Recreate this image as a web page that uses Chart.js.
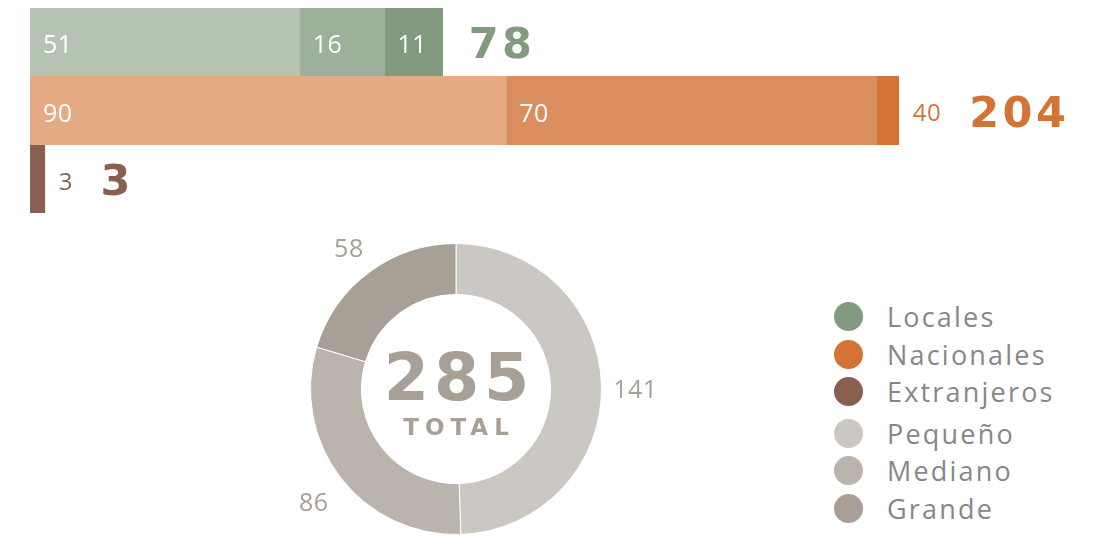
<!DOCTYPE html>
<html>
<head>
<meta charset="utf-8">
<script src="https://cdn.jsdelivr.net/npm/chart.js@4/dist/chart.umd.min.js"></script>
<style>
	html, body { margin: 0; padding: 0; background: #fff; }
	body { width: 1104px; height: 536px; position: relative; overflow: hidden; font-family: "Open Sans", sans-serif; }
	#bars-wrap { position: absolute; left: 0; top: 0; width: 1104px; height: 220px; }
	#donut-wrap { position: absolute; left: 156px; top: 224px; width: 600px; height: 312px; }
	#legend { position: absolute; left: 834px; top: 298px; margin: 0; padding: 0; list-style: none; }
	#legend li { display: flex; align-items: center; height: 37.5px; color: #878787; font-size: 27px; font-weight: 400; letter-spacing: 2.2px; }
	#legend li.gap { margin-top: 4px; }
	#legend span.dot { width: 29px; height: 29px; border-radius: 50%; margin-right: 24px; flex: none; }
</style>
</head>
<body>
<div id="bars-wrap"><canvas id="chart-origen"></canvas></div>
<div id="donut-wrap"><canvas id="chart-tamano"></canvas></div>
<ul id="legend"></ul>

<script>
// Data
const ORIGINS = ["Locales", "Nacionales", "Extranjeros"];
const SIZES = ["Pequeño", "Mediano", "Grande"];
const ORIGIN_TOTALS = [78, 204, 3];
// segment lengths as drawn in the bars
const PEQUENO = [51, 90, 0];
const MEDIANO = [16, 70, 0];
const GRANDE = [11, 4.2, 2.8];
// numbers printed on the segments
const PEQUENO_LABELS = ["51", "90", ""];
const MEDIANO_LABELS = ["16", "70", ""];
const GRANDE_LABELS = ["11", "40", "3"];
// doughnut
const SIZE_TOTALS = [141, 86, 58];
const GRAND_TOTAL = 285;

// Colours
const ORIGIN_COLORS = ["#829a7f", "#d37434", "#8b5e52"];
const SHADES = [
	["#b5c4b2", "#e4aa84", "#8b5e52"],
	["#9cb09a", "#da8e5d", "#8b5e52"],
	["#829a7f", "#d37434", "#8b5e52"],
];
const SIZE_COLORS = ["#cbc7c2", "#bab4ad", "#a8a097"];
const FONT = "'Open Sans', sans-serif";
const BOLD_FONT = "'DejaVu Sans', sans-serif";

//---------------------------------------------------------
// Bars
//---------------------------------------------------------
const SEGMENT_LABELS = [PEQUENO_LABELS, MEDIANO_LABELS, GRANDE_LABELS];

const barLabels = {
	id: "barLabels",
	afterDatasetsDraw(chart) {
		const ctx = chart.ctx;
		ctx.save();
		ctx.textBaseline = "middle";
		ORIGINS.forEach((origin, i) => {
			let endX = chart.scales.x.getPixelForValue(0);
			let y = 0;
			let outside = null;
			chart.data.datasets.forEach((ds, d) => {
				const bar = chart.getDatasetMeta(d).data[i];
				const text = SEGMENT_LABELS[d][i];
				y = bar.y;
				if (ds.data[i] > 0) endX = bar.x;
				if (!text) return;
				const w = bar.x - bar.base;
				if (w > 40) {
					ctx.font = "400 25px " + FONT;
					ctx.fillStyle = "#ffffff";
					ctx.textAlign = "left";
					ctx.letterSpacing = "0.5px";
					ctx.fillText(text, bar.base + 13, bar.y + 4);
				} else {
					outside = text;
				}
			});
			let x = endX + 14;
			if (outside) {
				ctx.font = "400 24px " + FONT;
				ctx.fillStyle = ORIGIN_COLORS[i];
				ctx.textAlign = "left";
				ctx.fillText(outside, x, y + 4);
				x += ctx.measureText(outside).width + 28;
			} else {
				x += 12;
			}
			ctx.font = "bold 43px " + BOLD_FONT;
			ctx.letterSpacing = "3.5px";
			ctx.fillStyle = ORIGIN_COLORS[i];
			ctx.fillText(String(ORIGIN_TOTALS[i]), x, y + 5);
			ctx.letterSpacing = "0px";
		});
		ctx.restore();
	},
};

new Chart(document.getElementById("chart-origen"), {
	type: "bar",
	data: {
		labels: ORIGINS,
		datasets: [
			{ label: SIZES[0], data: PEQUENO, backgroundColor: SHADES[0] },
			{ label: SIZES[1], data: MEDIANO, backgroundColor: SHADES[1] },
			{ label: SIZES[2], data: GRANDE, backgroundColor: SHADES[2] },
		],
	},
	options: {
		indexAxis: "y",
		maintainAspectRatio: false,
		animation: false,
		layout: { padding: { left: 30, right: 0, top: 8, bottom: 7 } },
		datasets: { bar: { barPercentage: 1, categoryPercentage: 1, borderWidth: 0 } },
		scales: {
			x: { stacked: true, display: false, min: 0, max: 203 },
			y: { stacked: true, display: false },
		},
		plugins: { legend: { display: false }, tooltip: { enabled: false } },
	},
	plugins: [barLabels],
});

//---------------------------------------------------------
// Doughnut
//---------------------------------------------------------
const donutText = {
	id: "donutText",
	afterDatasetsDraw(chart) {
		const ctx = chart.ctx;
		const arcs = chart.getDatasetMeta(0).data;
		ctx.save();
		ctx.textAlign = "center";
		ctx.textBaseline = "middle";
		// outer value labels
		ctx.font = "400 25px " + FONT;
		ctx.letterSpacing = "0.5px";
		ctx.fillStyle = "#a8a097";
		arcs.forEach((arc, i) => {
			const mid = (arc.startAngle + arc.endAngle) / 2;
			const r = arc.outerRadius + 34;
			ctx.fillText(String(SIZE_TOTALS[i]), arc.x + Math.cos(mid) * r, arc.y + Math.sin(mid) * r + 5);
		});
		// centre total
		const cx = arcs[0].x;
		const cy = arcs[0].y;
		ctx.fillStyle = "#a8a097";
		ctx.font = "bold 65px " + BOLD_FONT;
		ctx.letterSpacing = "5px";
		ctx.fillText(String(GRAND_TOTAL), cx + 3, cy - 6);
		ctx.font = "bold 23px " + BOLD_FONT;
		ctx.letterSpacing = "6px";
		ctx.fillText("TOTAL", cx + 3, cy + 40);
		ctx.restore();
	},
};

new Chart(document.getElementById("chart-tamano"), {
	type: "doughnut",
	data: {
		labels: SIZES,
		datasets: [
			{
				data: SIZE_TOTALS,
				backgroundColor: SIZE_COLORS,
				borderColor: "#ffffff",
				borderWidth: 1,
			},
		],
	},
	options: {
		maintainAspectRatio: false,
		animation: false,
		cutout: "65%",
		layout: { padding: { top: 19, bottom: 1 } },
		plugins: { legend: { display: false }, tooltip: { enabled: false } },
	},
	plugins: [donutText],
});

// Legend
const legend = document.getElementById("legend");
ORIGINS.concat(SIZES).forEach((name, i) => {
	const li = document.createElement("li");
	if (i === 3) li.className = "gap";
	const dot = document.createElement("span");
	dot.className = "dot";
	dot.style.background = i < 3 ? ORIGIN_COLORS[i] : SIZE_COLORS[i - 3];
	li.appendChild(dot);
	li.appendChild(document.createTextNode(name));
	legend.appendChild(li);
});
</script>
</body>
</html>
